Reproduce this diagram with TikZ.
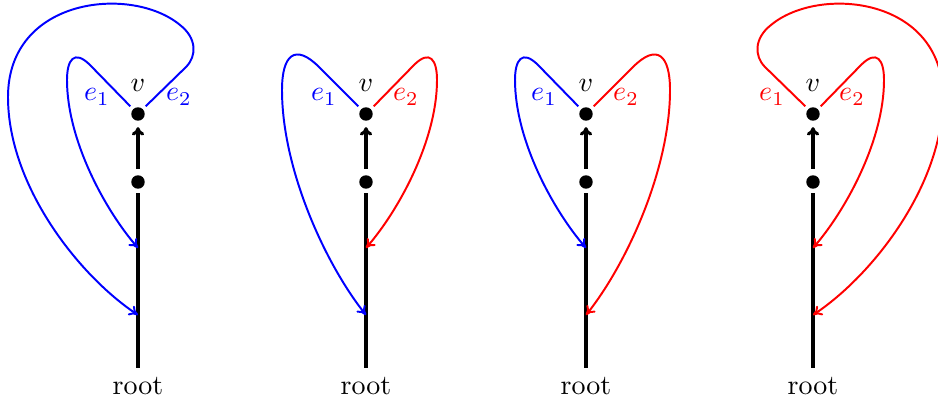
\documentclass[tikz,border=0pt]{standalone}
\usetikzlibrary{arrows.meta}
\begin{document}
\begin{tikzpicture}[x=0.35714pt,y=-0.35714pt,
  vdot/.style={circle,fill=black,inner sep=0pt,minimum size=4.8pt,outer sep=1.5pt},
  trunk/.style={line width=1.1pt,black},
  uparrow/.style={trunk,-{To[length=3pt,width=4.4pt]},shorten <=0.8pt,shorten >=0.8pt},
  edgeline/.style={line width=0.7pt,-{To[length=3.2pt,width=4pt]}},
  lbl/.style={anchor=base,inner sep=0pt}]
\useasboundingbox (0,0) rectangle (938,405);

% ---------- panel 1 ----------
\begin{scope}[shift={(138,0)}]
  \node[vdot] (v1) at (0,114) {};
  \node[vdot] (m1) at (0,182) {};
  \node[anchor=base] (root1) at (0,395) {root};
  \coordinate (a1) at (0,248);
  \coordinate (b1) at (0,315);
  \draw[trunk] (root1) -- (m1);
  \draw[uparrow] (m1) -- (v1);
  \node[lbl] (lv1) at (0,92) {$v$};
  \node[lbl,blue] (le11) at (-41,101) {$e_1$};
  \node[lbl,blue] (le21) at (41,101) {$e_2$};
  \draw[edgeline,blue] (v1.135) -- (-48,65) .. controls (-64,49) and (-71,60) .. (-71,80)
        .. controls (-71,140) and (-33,210) .. (a1);
  \draw[edgeline,blue] (v1.45) -- (48,67) .. controls (59,56) and (58.8,38) .. (42,25)
        .. controls (-6,-15) and (-130,-3) .. (-130,97)
        .. controls (-130,185) and (-60,275) .. (b1);
\end{scope}

% ---------- panel 2 ----------
\begin{scope}[shift={(366,0)}]
  \node[vdot] (v2) at (0,114) {};
  \node[vdot] (m2) at (0,182) {};
  \node[anchor=base] (root2) at (0,395) {root};
  \coordinate (a2) at (0,248);
  \coordinate (b2) at (0,315);
  \draw[trunk] (root2) -- (m2);
  \draw[uparrow] (m2) -- (v2);
  \node[lbl] (lv2) at (0,92) {$v$};
  \node[lbl,blue] (le12) at (-42,101) {$e_1$};
  \node[lbl,red] (le22) at (40,101) {$e_2$};
  \draw[edgeline,blue] (v2.135) -- (-47,67) .. controls (-71,43) and (-84,55) .. (-84,90)
        .. controls (-84,170) and (-40,265) .. (b2);
  \draw[edgeline,red] (v2.45) -- (48,65) .. controls (64,49) and (71,60) .. (71,80)
        .. controls (71,140) and (33,210) .. (a2);
\end{scope}

% ---------- panel 3 ----------
\begin{scope}[shift={(586,0)}]
  \node[vdot] (v3) at (0,114) {};
  \node[vdot] (m3) at (0,182) {};
  \node[anchor=base] (root3) at (0,395) {root};
  \coordinate (a3) at (0,248);
  \coordinate (b3) at (0,315);
  \draw[trunk] (root3) -- (m3);
  \draw[uparrow] (m3) -- (v3);
  \node[lbl] (lv3) at (0,92) {$v$};
  \node[lbl,blue] (le13) at (-42,101) {$e_1$};
  \node[lbl,red] (le23) at (40,101) {$e_2$};
  \draw[edgeline,blue] (v3.135) -- (-48,65) .. controls (-64,49) and (-71,60) .. (-71,80)
        .. controls (-71,140) and (-33,210) .. (a3);
  \draw[edgeline,red] (v3.45) -- (47,67) .. controls (71,43) and (84,55) .. (84,90)
        .. controls (84,170) and (40,265) .. (b3);
\end{scope}

% ---------- panel 4 ----------
\begin{scope}[shift={(813,0)}]
  \node[vdot] (v4) at (0,114) {};
  \node[vdot] (m4) at (0,182) {};
  \node[anchor=base] (root4) at (0,395) {root};
  \coordinate (a4) at (0,248);
  \coordinate (b4) at (0,315);
  \draw[trunk] (root4) -- (m4);
  \draw[uparrow] (m4) -- (v4);
  \node[lbl] (lv4) at (0,92) {$v$};
  \node[lbl,red] (le14) at (-41,101) {$e_1$};
  \node[lbl,red] (le24) at (39,101) {$e_2$};
  \draw[edgeline,red] (v4.135) -- (-48,67) .. controls (-59,56) and (-58.8,38) .. (-42,25)
        .. controls (6,-15) and (130,-3) .. (130,97)
        .. controls (130,185) and (60,275) .. (b4);
  \draw[edgeline,red] (v4.45) -- (48,65) .. controls (64,49) and (71,60) .. (71,80)
        .. controls (71,140) and (33,210) .. (a4);
\end{scope}
\end{tikzpicture}
\end{document}
